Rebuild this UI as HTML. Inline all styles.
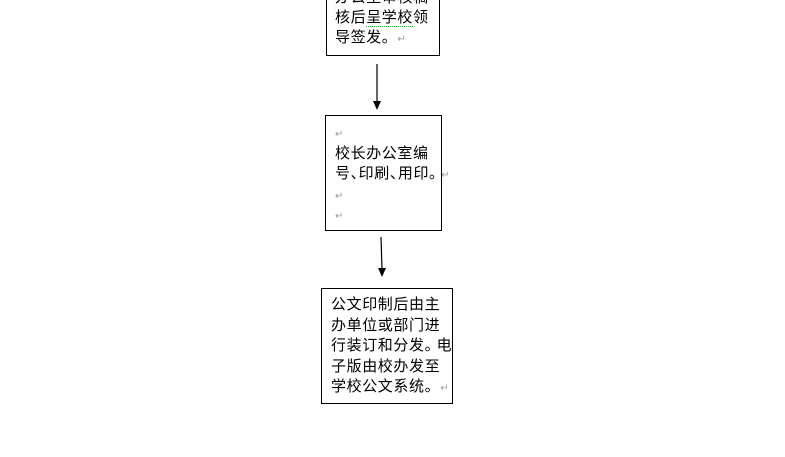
<!DOCTYPE html>
<html><head><meta charset="utf-8"><style>
body{margin:0;width:785px;height:457px;background:#fff;position:relative;overflow:hidden;font-family:"Liberation Sans","Noto Sans CJK SC","WenQuanYi Zen Hei",sans-serif;}
.b{position:absolute;border:1px solid #000;box-sizing:border-box;background:#fff}
.t{position:absolute;font-size:15px;line-height:20.5px;color:#000;white-space:nowrap;letter-spacing:0.6px}
.r{color:#999;font-size:10px}
.p{letter-spacing:-7px}
.q{letter-spacing:-3px}
</style></head><body>
<div class="b" style="left:326px;top:-5px;width:114px;height:61px"></div>
<div class="t" style="left:335px;top:-12px">办公室审核稿</div>
<div class="t" style="left:335px;top:8px">核后<span style="border-bottom:1px dotted #3a3">呈学校</span>领</div>
<div class="t" style="left:335px;top:28px">导签发。<span class="r">↵</span></div>

<div class="b" style="left:325px;top:115px;width:117px;height:116px"></div>
<div class="t" style="left:335px;top:123px"><span class="r">↵</span></div>
<div class="t" style="left:335px;top:144px">校长办公室编</div>
<div class="t" style="left:335px;top:164px">号<span class="p">、</span>印刷<span class="p">、</span>用印<span class="q">。</span><span class="r">↵</span></div>
<div class="t" style="left:335px;top:185px"><span class="r">↵</span></div>
<div class="t" style="left:335px;top:205px"><span class="r">↵</span></div>

<div class="b" style="left:321px;top:288px;width:132px;height:116px"></div>
<div class="t" style="left:331px;top:295px">公文印制后由主<br>办单位或部门进<br>行装订和分发<span class="q">。</span>电<br>子版由校办发至<br>学校公文系统。<span class="r">↵</span></div>

<svg width="785" height="457" style="position:absolute;left:0;top:0">
<line x1="377" y1="64" x2="377" y2="102" stroke="#000" stroke-width="1.2"/>
<polygon points="373,101 381,101 377,110" fill="#000"/>
<line x1="381" y1="237" x2="382" y2="269" stroke="#000" stroke-width="1.2"/>
<polygon points="378,268 386,268 382,277" fill="#000"/>
</svg>
</body></html>
